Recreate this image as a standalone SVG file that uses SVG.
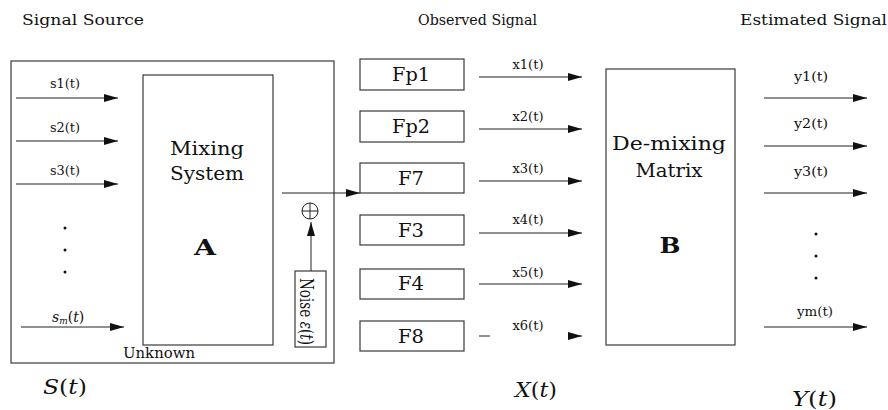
<svg xmlns="http://www.w3.org/2000/svg" width="888" height="410" viewBox="0 0 888 410" font-family="'DejaVu Serif', 'Liberation Serif', serif">
<style>
text{font-family:"DejaVu Serif","Liberation Serif","Times New Roman","Noto Serif",serif;fill:#111}
.box{fill:none;stroke:#3a3a3a;stroke-width:1.2}
.ln{stroke:#222;stroke-width:1;fill:none}
.lbl{font-size:12px;text-anchor:middle}
.big{font-size:19px;text-anchor:middle}
.hdr{font-size:15px}
.math{font-size:21px;font-style:italic}
.bold{font-size:23px;font-weight:bold;text-anchor:middle}
</style>
<defs>
<marker id="ah" markerWidth="14" markerHeight="8" refX="14" refY="4" orient="auto" markerUnits="userSpaceOnUse">
<path d="M0,0 L14,4 L0,8 z" fill="#111"/>
</marker>
</defs>
<rect width="888" height="410" fill="#fff"/>
<g id="headers">
<text class="hdr" x="22" y="25" textLength="122" lengthAdjust="spacingAndGlyphs">Signal Source</text>
<text class="hdr" x="418" y="25" textLength="119" lengthAdjust="spacingAndGlyphs">Observed Signal</text>
<text class="hdr" x="740" y="25" textLength="147" lengthAdjust="spacingAndGlyphs">Estimated Signal</text>
</g>

<g id="source">
<rect class="box" x="11" y="61" width="323" height="302"/>
<text x="123" y="358" font-size="14" textLength="72" lengthAdjust="spacingAndGlyphs">Unknown</text>
<text class="lbl" x="65" y="88" textLength="30" lengthAdjust="spacingAndGlyphs">s1(t)</text>
<text class="lbl" x="65" y="132" textLength="30" lengthAdjust="spacingAndGlyphs">s2(t)</text>
<text class="lbl" x="65" y="175" textLength="30" lengthAdjust="spacingAndGlyphs">s3(t)</text>
<text x="52" y="322" font-size="14" font-style="italic">s<tspan font-size="9" dy="2">m</tspan><tspan dy="-2" font-style="normal">(</tspan>t<tspan font-style="normal">)</tspan></text>
<circle cx="65" cy="228" r="1.5" fill="#111"/>
<circle cx="65" cy="250" r="1.5" fill="#111"/>
<circle cx="65" cy="272" r="1.5" fill="#111"/>
<text class="math" x="43" y="394" textLength="44" lengthAdjust="spacingAndGlyphs">S<tspan font-style="normal">(</tspan>t<tspan font-style="normal">)</tspan></text>
</g>

<g id="mixing">
<rect class="box" x="143" y="75" width="130" height="270"/>
<text class="big" x="207" y="155" textLength="74" lengthAdjust="spacingAndGlyphs">Mixing</text>
<text class="big" x="207" y="180" textLength="74" lengthAdjust="spacingAndGlyphs">System</text>
<text class="bold" x="205" y="255" textLength="22" lengthAdjust="spacingAndGlyphs">A</text>
</g>

<g id="noise">
<rect class="box" x="295" y="271" width="31" height="76"/>
<text font-size="16" transform="translate(300,278) scale(1.2,1) rotate(90)" textLength="67" lengthAdjust="spacingAndGlyphs">Noise <tspan font-style="italic">ε</tspan>(<tspan font-style="italic">t</tspan>)</text>
</g>

<g id="sum">
<circle cx="310" cy="211" r="8" class="ln"/>
<path class="ln" d="M302,211 H318 M310,203 V219"/>
</g>

<g id="Fp1"><rect class="box" x="360" y="59" width="104" height="31"/><text class="big" x="411" y="81" textLength="38" lengthAdjust="spacingAndGlyphs">Fp1</text></g>
<g id="Fp2"><rect class="box" x="360" y="111" width="104" height="31"/><text class="big" x="411" y="133" textLength="38" lengthAdjust="spacingAndGlyphs">Fp2</text></g>
<g id="F7"><rect class="box" x="360" y="163" width="104" height="30"/><text class="big" x="411" y="185" textLength="26" lengthAdjust="spacingAndGlyphs">F7</text></g>
<g id="F3"><rect class="box" x="360" y="215" width="104" height="30"/><text class="big" x="411" y="237" textLength="26" lengthAdjust="spacingAndGlyphs">F3</text></g>
<g id="F4"><rect class="box" x="360" y="269" width="104" height="30"/><text class="big" x="411" y="290" textLength="26" lengthAdjust="spacingAndGlyphs">F4</text></g>
<g id="F8"><rect class="box" x="360" y="321" width="104" height="30"/><text class="big" x="411" y="343" textLength="26" lengthAdjust="spacingAndGlyphs">F8</text></g>

<g id="xlabels">
<text class="lbl" x="528" y="69" textLength="31" lengthAdjust="spacingAndGlyphs">x1(t)</text>
<text class="lbl" x="528" y="121" textLength="31" lengthAdjust="spacingAndGlyphs">x2(t)</text>
<text class="lbl" x="528" y="173" textLength="31" lengthAdjust="spacingAndGlyphs">x3(t)</text>
<text class="lbl" x="528" y="224" textLength="31" lengthAdjust="spacingAndGlyphs">x4(t)</text>
<text class="lbl" x="528" y="277" textLength="31" lengthAdjust="spacingAndGlyphs">x5(t)</text>
<text class="lbl" x="528" y="330" textLength="31" lengthAdjust="spacingAndGlyphs">x6(t)</text>
<text class="math" x="515" y="397" textLength="42" lengthAdjust="spacingAndGlyphs">X<tspan font-style="normal">(</tspan>t<tspan font-style="normal">)</tspan></text>
</g>

<g id="demixing">
<rect class="box" x="606" y="69" width="129" height="276"/>
<text class="big" x="669" y="150" textLength="114" lengthAdjust="spacingAndGlyphs">De-mixing</text>
<text class="big" x="669" y="177" textLength="67" lengthAdjust="spacingAndGlyphs">Matrix</text>
<text class="bold" x="670" y="253" textLength="21" lengthAdjust="spacingAndGlyphs">B</text>
</g>

<g id="output">
<text class="lbl" x="811" y="81" textLength="34" lengthAdjust="spacingAndGlyphs">y1(t)</text>
<text class="lbl" x="811" y="128" textLength="34" lengthAdjust="spacingAndGlyphs">y2(t)</text>
<text class="lbl" x="811" y="176" textLength="34" lengthAdjust="spacingAndGlyphs">y3(t)</text>
<text class="lbl" x="815" y="316" textLength="36" lengthAdjust="spacingAndGlyphs">ym(t)</text>
<circle cx="816" cy="234" r="1.5" fill="#111"/>
<circle cx="816" cy="256" r="1.5" fill="#111"/>
<circle cx="816" cy="278" r="1.5" fill="#111"/>
<text class="math" x="792" y="406" textLength="45" lengthAdjust="spacingAndGlyphs">Y<tspan font-style="normal">(</tspan>t<tspan font-style="normal">)</tspan></text>
</g>

<g id="connectors" class="ln" marker-end="url(#ah)">
<path d="M16,98 H118"/>
<path d="M16,141 H118"/>
<path d="M16,184 H118"/>
<path d="M21,327 H124"/>
<path d="M282,193 H360"/>
<path d="M311,271 V222"/>
<path d="M479,77 H582"/>
<path d="M479,129 H582"/>
<path d="M479,181 H582"/>
<path d="M479,233 H582"/>
<path d="M479,284 H582"/>
<path d="M578,336 H582"/>
<path d="M764,98 H867"/>
<path d="M764,146 H867"/>
<path d="M764,193 H867"/>
<path d="M764,327 H867"/>
<path d="M479,336 H490" marker-end="none"/>
</g>
</svg>
